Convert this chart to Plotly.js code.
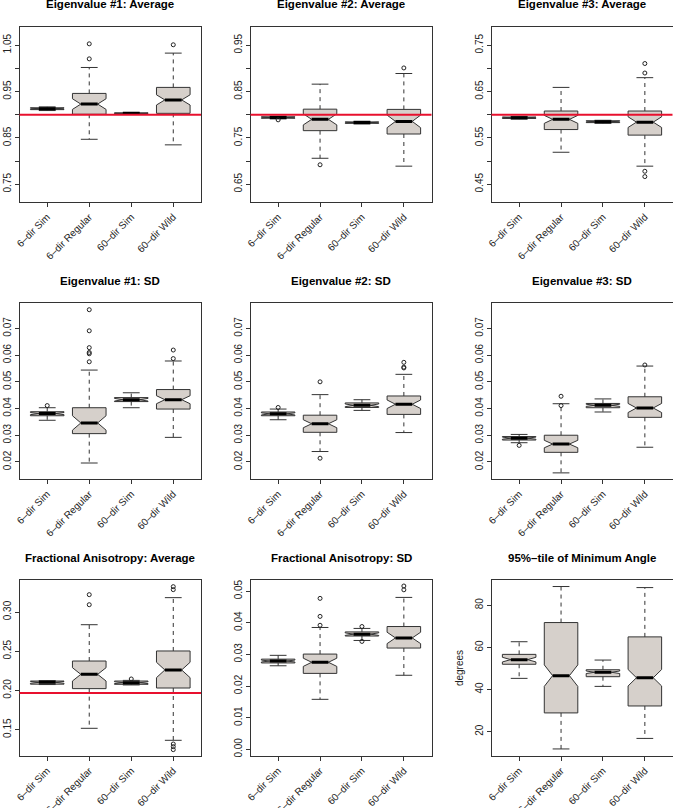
<!DOCTYPE html>
<html><head><meta charset="utf-8">
<script src="https://cdn.plot.ly/plotly-3.0.1.min.js"></script>
<style>html,body{margin:0;padding:0;background:#fff}#chart{width:673px;height:808px}</style>
</head><body><div id="chart"></div>
<script>
// ---------- data ----------
const categories = ['6\u2013dir Sim', '6\u2013dir Regular', '60\u2013dir Sim', '60\u2013dir Wild'];
const panelTitles = [
  'Eigenvalue #1: Average', 'Eigenvalue #2: Average', 'Eigenvalue #3: Average',
  'Eigenvalue #1: SD', 'Eigenvalue #2: SD', 'Eigenvalue #3: SD',
  'Fractional Anisotropy: Average', 'Fractional Anisotropy: SD', '95%\u2013tile of Minimum Angle'
];
const q1Values = [
  [0.911, 0.901, 0.902, 0.903],
  [0.7925, 0.7656, 0.7815, 0.7584],
  [0.592, 0.568, 0.583, 0.556],
  [0.0373, 0.0306, 0.0426, 0.0398],
  [0.0373, 0.0311, 0.0404, 0.0378],
  [0.0282, 0.0236, 0.0403, 0.0367],
  [0.208, 0.2023, 0.2078, 0.2031],
  [0.0273, 0.0240, 0.0358, 0.0320],
  [52.0, 28.9, 46.1, 32.2]
];
const medianValues = [
  [0.913, 0.923, 0.903, 0.932],
  [0.794, 0.790, 0.783, 0.7856],
  [0.5935, 0.590, 0.585, 0.584],
  [0.0381, 0.0346, 0.0433, 0.0433],
  [0.0380, 0.0343, 0.0412, 0.0416],
  [0.0289, 0.0267, 0.0412, 0.0402],
  [0.2103, 0.2205, 0.2099, 0.2261],
  [0.0279, 0.0275, 0.0364, 0.0352],
  [54.2, 46.6, 48.2, 45.6]
];
const q3Values = [
  [0.915, 0.946, 0.904, 0.959],
  [0.7955, 0.812, 0.7845, 0.8115],
  [0.595, 0.608, 0.587, 0.608],
  [0.0388, 0.0403, 0.0441, 0.0471],
  [0.0387, 0.0375, 0.0421, 0.0447],
  [0.0295, 0.0300, 0.0419, 0.0444],
  [0.212, 0.2375, 0.212, 0.2503],
  [0.0285, 0.0301, 0.0371, 0.0388],
  [56.7, 71.8, 49.4, 65.0]
];
const whiskerLow = [
  [0.909, 0.847, 0.9015, 0.835],
  [0.791, 0.706, 0.780, 0.689],
  [0.5905, 0.519, 0.5815, 0.489],
  [0.0356, 0.0196, 0.0403, 0.0292],
  [0.0358, 0.0239, 0.0393, 0.0310],
  [0.0272, 0.0159, 0.0387, 0.0255],
  [0.2075, 0.1517, 0.207, 0.1364],
  [0.0264, 0.0158, 0.0344, 0.0234],
  [45.3, 11.8, 41.5, 16.8]
];
const whiskerHigh = [
  [0.917, 1.002, 0.9045, 1.033],
  [0.797, 0.866, 0.786, 0.889],
  [0.5965, 0.659, 0.588, 0.680],
  [0.0403, 0.0544, 0.0459, 0.0578],
  [0.0398, 0.0452, 0.0433, 0.0528],
  [0.0303, 0.0418, 0.0436, 0.0559],
  [0.2125, 0.2838, 0.2128, 0.3183],
  [0.0297, 0.0385, 0.0382, 0.0480],
  [62.7, 88.9, 54.0, 88.4]
];
const notchSpans = [
  [0.0012, 0.0115, 0.0006, 0.011],
  [0.0010, 0.012, 0.0010, 0.0136],
  [0.0010, 0.0086, 0.0012, 0.0115],
  [0.0004, 0.0027, 0.0005, 0.0015],
  [0.0004, 0.0015, 0.0005, 0.0016],
  [0.0004, 0.0014, 0.0004, 0.0017],
  [0.0012, 0.0085, 0.0012, 0.0098],
  [0.0003, 0.0013, 0.0004, 0.0018],
  [1.1, 5.1, 0.6, 3.9]
];
const outlierGroups = [
  [1, 1, 3],
  [0, 1, 3],
  [3, 3, 3, 3],
  [0, 1, 1, 1, 1, 1, 1, 3, 3],
  [0, 1, 1, 3, 3, 3],
  [0, 1, 1, 3],
  [2, 1, 1, 3, 3, 3, 3, 3],
  [1, 1, 1, 2, 2, 3, 3],
  []
];
const outlierValues = [
  [1.0206, 1.053, 1.051],
  [0.789, 0.692, 0.901],
  [0.7105, 0.690, 0.478, 0.4665],
  [0.0411, 0.0575, 0.0605, 0.0610, 0.0628, 0.0691, 0.0770, 0.0587, 0.0619],
  [0.0404, 0.0500, 0.0214, 0.0552, 0.0555, 0.0573],
  [0.0262, 0.0411, 0.0446, 0.0563],
  [0.2146, 0.3093, 0.3221, 0.3323, 0.3285, 0.1317, 0.1283, 0.1245],
  [0.0392, 0.0420, 0.0477, 0.0388, 0.0341, 0.0516, 0.0504],
  []
];
const referenceLines = [0.9, 0.8, 0.6, null, null, null, 0.1967, null, null];
const yRanges = [
  [0.711, 1.09], [0.611, 0.99], [0.411, 0.79],
  [0.0135, 0.0794], [0.0135, 0.0794], [0.0135, 0.0794],
  [0.1164, 0.3408], [-0.0021, 0.0535], [8.45, 92.0]
];
const yTickVals = [
  [0.75, 0.80, 0.85, 0.90, 0.95, 1.00, 1.05],
  [0.65, 0.70, 0.75, 0.80, 0.85, 0.90, 0.95],
  [0.45, 0.50, 0.55, 0.60, 0.65, 0.70, 0.75],
  [0.02, 0.03, 0.04, 0.05, 0.06, 0.07],
  [0.02, 0.03, 0.04, 0.05, 0.06, 0.07],
  [0.02, 0.03, 0.04, 0.05, 0.06, 0.07],
  [0.15, 0.20, 0.25, 0.30],
  [0.00, 0.01, 0.02, 0.03, 0.04, 0.05],
  [20, 40, 60, 80]
];
const yTickText = [
  ['0.75', '', '0.85', '', '0.95', '', '1.05'],
  ['0.65', '', '0.75', '', '0.85', '', '0.95'],
  ['0.45', '', '0.55', '', '0.65', '', '0.75'],
  ['0.02', '0.03', '0.04', '0.05', '0.06', '0.07'],
  ['0.02', '0.03', '0.04', '0.05', '0.06', '0.07'],
  ['0.02', '0.03', '0.04', '0.05', '0.06', '0.07'],
  ['0.15', '0.20', '0.25', '0.30'],
  ['0.00', '0.01', '0.02', '0.03', '0.04', '0.05'],
  ['20', '40', '60', '80']
];
const yAxisTitles = ['', '', '', '', '', '', '', '', 'degrees'];

// ---------- styling / layout ----------
const W = 673, H = 808;
const colPx = [[19.5, 201], [250.5, 431.5], [491.5, 672.5]];
const rowPx = [[26.7, 202.3], [303.3, 479.3], [580, 756]];
const titleY = [4.5, 281.5, 558];
const FONT = 'Liberation Sans, Arial, Helvetica, sans-serif';
const positions = categories.map((c, i) => i);
const BOXW = 0.8, HALF = 0.2;

const data = [];
const layout = {
  width: W, height: H, margin: {l: 0, r: 0, t: 0, b: 0},
  paper_bgcolor: '#ffffff', plot_bgcolor: '#ffffff',
  showlegend: false, font: {family: FONT, color: '#222', size: 10},
  shapes: [], annotations: []
};

for (let p = 0; p < 9; p++) {
  const r = Math.floor(p / 3), c = p % 3;
  const sfx = p === 0 ? '' : String(p + 1);
  const xa = 'x' + sfx, ya = 'y' + sfx;

  // boxes (notched)
  data.push({
    type: 'box', x: positions, q1: q1Values[p], median: medianValues[p], q3: q3Values[p],
    lowerfence: q1Values[p], upperfence: q3Values[p],
    notched: true, notchspan: notchSpans[p], notchwidth: 0.25,
    width: BOXW, whiskerwidth: 0, boxpoints: false,
    fillcolor: '#d6d0cb', line: {color: '#333333', width: 1},
    xaxis: xa, yaxis: ya, hoverinfo: 'skip'
  });
  // dashed whiskers
  const wx = [], wy = [];
  positions.forEach((x, i) => {
    wx.push(x, x, null, x, x, null);
    wy.push(q3Values[p][i], whiskerHigh[p][i], null, q1Values[p][i], whiskerLow[p][i], null);
  });
  data.push({type: 'scatter', mode: 'lines', x: wx, y: wy, xaxis: xa, yaxis: ya,
    line: {color: '#333333', width: 1, dash: '4px,4px'}, hoverinfo: 'skip', connectgaps: false});
  // staples
  const sx = [], sy = [];
  positions.forEach((x, i) => {
    sx.push(x - HALF, x + HALF, null, x - HALF, x + HALF, null);
    sy.push(whiskerHigh[p][i], whiskerHigh[p][i], null, whiskerLow[p][i], whiskerLow[p][i], null);
  });
  data.push({type: 'scatter', mode: 'lines', x: sx, y: sy, xaxis: xa, yaxis: ya,
    line: {color: '#333333', width: 1}, hoverinfo: 'skip'});
  // thick medians
  const mx = [], my = [];
  positions.forEach((x, i) => {
    mx.push(x - HALF, x + HALF, null);
    my.push(medianValues[p][i], medianValues[p][i], null);
  });
  data.push({type: 'scatter', mode: 'lines', x: mx, y: my, xaxis: xa, yaxis: ya,
    line: {color: '#000000', width: 3}, hoverinfo: 'skip'});
  // outliers
  if (outlierValues[p].length) {
    data.push({type: 'scatter', mode: 'markers', x: outlierGroups[p], y: outlierValues[p],
      xaxis: xa, yaxis: ya, hoverinfo: 'skip',
      marker: {symbol: 'circle-open', size: 4, color: '#222', line: {width: 1, color: '#222'}}});
  }
  // reference line
  if (referenceLines[p] !== null) {
    layout.shapes.push({type: 'line', xref: xa + ' domain', yref: ya, x0: 0, x1: 1,
      y0: referenceLines[p], y1: referenceLines[p], line: {color: '#e8102e', width: 2}});
  }

  layout['xaxis' + sfx] = {
    domain: [colPx[c][0] / W, colPx[c][1] / W], anchor: ya,
    range: [-0.66, 3.66], tickvals: positions, ticktext: categories, tickangle: -45,
    ticks: 'outside', ticklen: 4, tickcolor: '#333', showgrid: false, zeroline: false,
    showline: true, mirror: true, linecolor: '#333', linewidth: 1,
    tickfont: {family: FONT, size: 10, color: '#222'}
  };
  layout['yaxis' + sfx] = {
    domain: [1 - rowPx[r][1] / H, 1 - rowPx[r][0] / H], anchor: xa,
    range: yRanges[p], tickvals: yTickVals[p], ticktext: yTickText[p], tickangle: -90,
    ticks: 'outside', ticklen: 4, tickcolor: '#333', showgrid: false, zeroline: false,
    showline: true, mirror: true, linecolor: '#333', linewidth: 1,
    tickfont: {family: FONT, size: 10, color: '#222'},
    title: {text: yAxisTitles[p], font: {family: FONT, size: 10, color: '#222'}, standoff: 8}
  };
  layout.annotations.push({
    xref: 'paper', yref: 'paper', x: (colPx[c][0] + colPx[c][1]) / 2 / W, y: 1 - titleY[r] / H,
    xanchor: 'center', yanchor: 'middle', showarrow: false,
    text: '<b>' + panelTitles[p] + '</b>', font: {family: FONT, size: 11.5, color: '#000'}
  });
}

Plotly.newPlot('chart', data, layout, {staticPlot: true, displayModeBar: false});
</script>
</body></html>
